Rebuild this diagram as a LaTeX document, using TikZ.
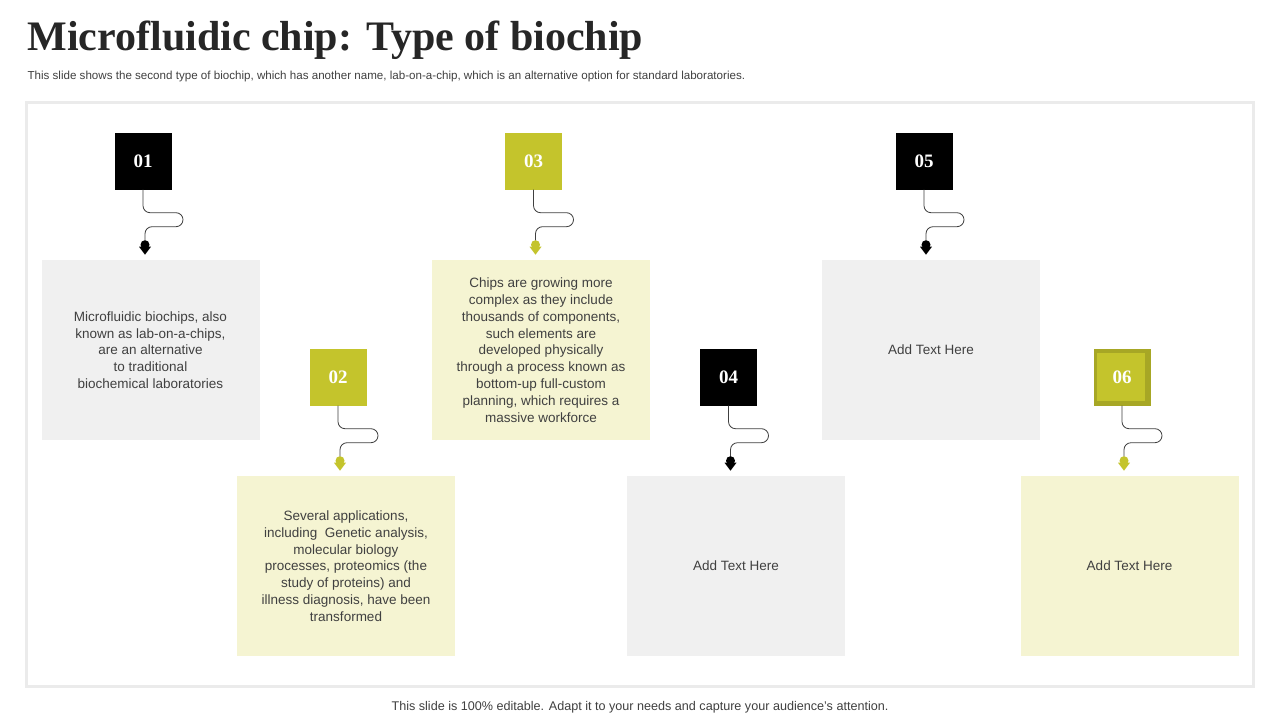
\documentclass[tikz,border=0pt]{standalone}
\usepackage{fontspec}
\setmainfont{Liberation Sans}
\newfontfamily\titlefont{Liberation Serif}
\usetikzlibrary{arrows.meta,calc}
\definecolor{lime}{HTML}{C4C42C}
\definecolor{pale}{HTML}{F5F4D2}
\definecolor{grey}{HTML}{F0F0F0}
\definecolor{txt}{HTML}{404040}
\tikzset{
 num/.style={minimum width=57pt,minimum height=57pt,inner sep=0pt,text=white,font=\titlefont\bfseries\fontsize{19}{19}\selectfont},
 tbox/.style={minimum width=218pt,minimum height=180pt,inner sep=0pt,text=txt,align=center,font=\fontsize{13.5}{16.8}\selectfont},
}
\newcommand\conn[2]{% node name, colour
 \draw[black!75,line width=0.8pt,rounded corners=7pt] (#1.south) -- ++(0,23) -- ++(40,0) -- ++(0,14) -- ++(-38,0) -- ++(0,14);
 \fill[#2] ($(#1.south)+(2,55)$) circle (4.5pt);
 \fill[#2] ($(#1.south)+(-4,57)$) -- ($(#1.south)+(8,57)$) -- ($(#1.south)+(2,65)$) -- cycle;
}
\begin{document}
\begin{tikzpicture}[x=1pt,y=-1pt]
\useasboundingbox (0,0) rectangle (1280,720);
\fill[white] (0,0) rectangle (1280,720);
\node[anchor=west,font=\titlefont\bfseries\fontsize{42}{42}\selectfont,text=black!85] (title) at (24,40) {Microfluidic chip: Type of biochip};
\node[anchor=west,font=\fontsize{11.6}{11.6}\selectfont,text=txt] (sub) at (24,77) {This slide shows the second type of biochip, which has another name, lab-on-a-chip, which is an alternative option for standard laboratories.};
\fill[black!8] (25,101) rectangle (1255,688);
\fill[white] (28,104) rectangle (1252,685);
\node[tbox,fill=grey] (t1) at (150.5,350) {Microfluidic biochips, also\\known as lab-on-a-chips,\\are an alternative\\to traditional\\biochemical laboratories};
\node[tbox,fill=pale] (t2) at (346,566) {Several applications,\\including\ \ Genetic analysis,\\molecular biology\\processes, proteomics (the\\study of proteins) and\\illness diagnosis, have been\\transformed};
\node[tbox,fill=pale] (t3) at (541,350) {Chips are growing more\\complex as they include\\thousands of components,\\such elements are\\developed physically\\through a process known as\\bottom-up full-custom\\planning, which requires a\\massive workforce};
\node[tbox,fill=grey] (t4) at (736,566) {Add Text Here};
\node[tbox,fill=grey] (t5) at (931,350) {Add Text Here};
\node[tbox,fill=pale] (t6) at (1129.5,566) {Add Text Here};
\node[num,fill=black] (n1) at (143,161) {01};
\node[num,fill=lime] (n2) at (338,377) {02};
\node[num,fill=lime] (n3) at (533.5,161) {03};
\node[num,fill=black] (n4) at (728.5,377) {04};
\node[num,fill=black] (n5) at (924,161) {05};
\node[num,fill=lime!85!black] (n6) at (1122,377) {};
\fill[lime] (1097,353) rectangle (1145,401);
\node[num] (n6l) at (1122,377) {06};
\conn{n1}{black}
\conn{n2}{lime}
\conn{n3}{lime}
\conn{n4}{black}
\conn{n5}{black}
\conn{n6}{lime}
\node[font=\fontsize{12.6}{12.6}\selectfont,text=txt] (foot) at (640,707) {This slide is 100\% editable. Adapt it to your needs and capture your audience's attention.};
\end{tikzpicture}
\end{document}
